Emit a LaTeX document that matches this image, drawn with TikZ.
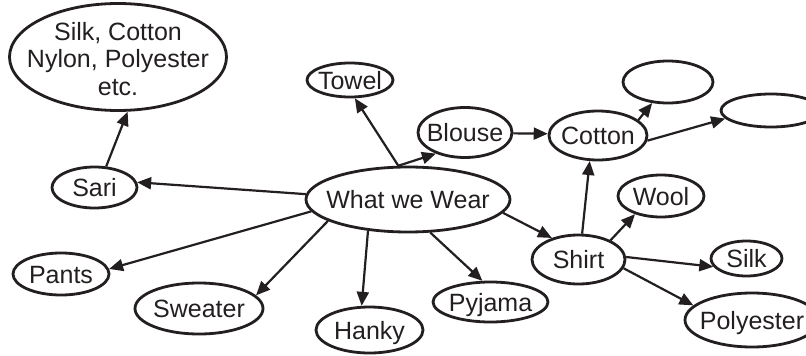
\documentclass[tikz,border=0pt]{standalone}
\usepackage{fontspec}
\setmainfont{Liberation Sans}
\usetikzlibrary{shapes.geometric,arrows.meta}
\definecolor{ink}{RGB}{35,31,32}
\begin{document}
\begin{tikzpicture}[x=1pt,y=-1pt,
  ov/.style args={#1/#2}{ellipse, draw=ink, line width=2.8pt, inner sep=0pt,
    minimum width=#1pt, minimum height=#2pt, text=ink,
    font=\fontsize{25}{27}\selectfont, text height=18pt, text depth=0pt},
  txt/.style={text=ink, font=\fontsize{25}{27.5}\selectfont, inner sep=0pt, align=center},
  arr/.style={draw=ink, line width=2.2pt, -{Triangle[length=14pt,width=12pt]}}]
\useasboundingbox (0,0) rectangle (806,356);

% nodes
\node[ov=217/107] (fibres) at (118,57) {};
\node[txt] (fibrestext) at (118,59) {Silk, Cotton\\Nylon, Polyester\\etc.};
\node[ov=86/34]  (towel)   at (350,80)    {\makebox[0pt]{Towel}};
\node[ov=85/41]  (sari)    at (94.5,187.5) {\makebox[0pt]{Sari}};
\node[ov=204/65] (www)     at (408,199.5) {\makebox[0pt]{What we Wear}};
\node[ov=94/50]  (blouse)  at (465,132.5) {\makebox[0pt]{Blouse}};
\node[ov=98/49]  (cotton)  at (598,135.5) {\makebox[0pt]{Cotton}};
\node[ov=90/42]  (ea)      at (668,82)    {};
\node[ov=100/33] (eb)      at (771,110.5) {};
\node[ov=86/42]  (wool)    at (661,196)   {\makebox[0pt]{Wool}};
\node[ov=93/49]  (shirt)   at (578.5,259.5) {\makebox[0pt]{Shirt}};
\node[ov=71/35]  (silk)    at (746.5,258.5) {\makebox[0pt]{Silk}};
\node[ov=134/54] (poly)    at (752,320)   {\makebox[0pt]{Polyester}};
\node[ov=115/40] (pyjama)  at (490.5,302) {\makebox[0pt]{Pyjama}};
\node[ov=107/46] (hanky)   at (369.5,330) {\makebox[0pt]{Hanky}};
\node[ov=128/51] (sweater) at (199,308.5) {\makebox[0pt]{Sweater}};
\node[ov=96/42]  (pants)   at (61,274)    {\makebox[0pt]{Pants}};

% connectors
\draw[arr] (sari.61)    -- (fibres.280);
\draw[arr] (www.177)    -- (sari.7);
\draw[arr] (www.106.6)  -- (towel.285.5);
\draw[arr] (www.106.6)  -- (blouse.216);
\draw[arr] (blouse.359) -- (cotton.178);
\draw[arr] (cotton.21.7) -- (ea.233);
\draw[arr] (cotton.354.8) -- (eb.190);
\draw[arr] (shirt.82)   -- (cotton.252.6);
\draw[arr] (shirt.31.8) -- (wool.215);
\draw[arr] (shirt.3)    -- (silk.194);
\draw[arr] (shirt.349)  -- (poly.166);
\draw[arr] (www.352.4)  -- (shirt.141);
\draw[arr] (www.304)    -- (pyjama.111);
\draw[arr] (www.218)    -- (hanky.108);
\draw[arr] (www.195.5)  -- (sweater.13.6);
\draw[arr] (www.187.3)  -- (pants.6.7);
\end{tikzpicture}
\end{document}
